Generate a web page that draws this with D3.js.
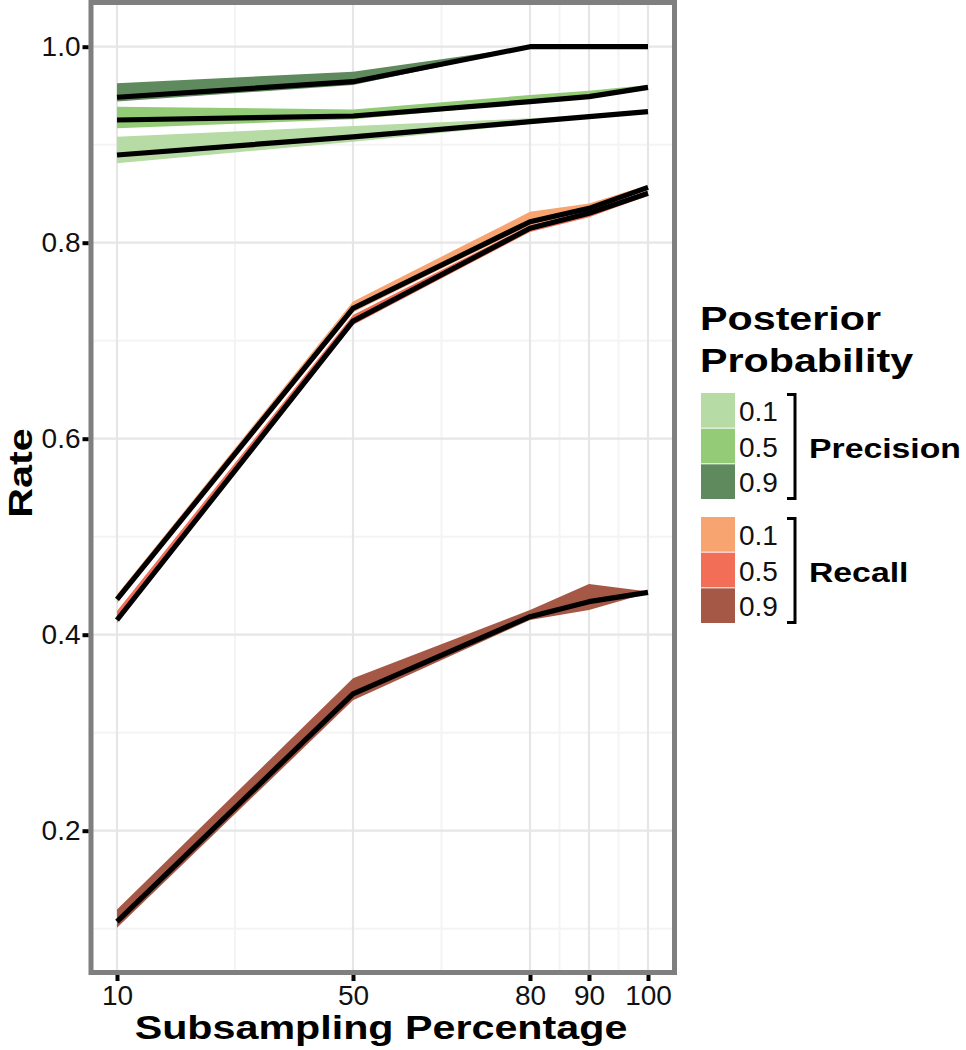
<!DOCTYPE html>
<html>
<head>
<meta charset="utf-8">
<script src="https://cdn.jsdelivr.net/npm/d3@7"></script>
<style>
  body{margin:0;background:#fff;}
  svg{display:block;font-family:"Liberation Sans",Arial,Helvetica,sans-serif;}
</style>
</head>
<body>
<svg id="chart" width="966" height="1050"></svg>
<script>
// subsampling percentages on the x axis
const pct = [10, 50, 80, 90, 100];

// precision, per posterior cut-off: mean line, ribbon low / high
const prec01 = [0.8895, 0.908, 0.9235, 0.9286, 0.9337];
const prec01Lo = [0.881, 0.903, 0.921, 0.927, 0.932];
const prec01Hi = [0.908, 0.919, 0.927, 0.930, 0.935];
const prec05 = [0.9252, 0.9293, 0.9439, 0.949, 0.9585];
const prec05Lo = [0.9167, 0.926, 0.942, 0.947, 0.957];
const prec05Hi = [0.9388, 0.936, 0.9507, 0.955, 0.961];
const prec09 = [0.9484, 0.9643, 1.0, 1.0, 1.0];
const prec09Lo = [0.944, 0.961, 0.999, 1.0, 1.0];
const prec09Hi = [0.9627, 0.9745, 1.0, 1.0, 1.0];

// recall
const rec01 = [0.4361, 0.733, 0.8214, 0.835, 0.8565];
const rec01Lo = [0.432, 0.729, 0.818, 0.832, 0.854];
const rec01Hi = [0.441, 0.740, 0.8316, 0.840, 0.859];
const rec05 = [0.415, 0.720, 0.8147, 0.830, 0.8504];
const rec05Lo = [0.412, 0.716, 0.811, 0.826, 0.848];
const rec05Hi = [0.4242, 0.7262, 0.818, 0.832, 0.853];
const rec09 = [0.1071, 0.3395, 0.4184, 0.4337, 0.4432];
const rec09Lo = [0.101, 0.333, 0.415, 0.4252, 0.4425];
const rec09Hi = [0.1197, 0.3555, 0.4252, 0.4517, 0.4440];

const xTicks = [10, 50, 80, 90, 100];
const xMinor = [30, 65, 85, 95];
const yTicks = [0.2, 0.4, 0.6, 0.8, 1.0];
const yMinor = [0.1, 0.3, 0.5, 0.7, 0.9];
const cutoffs = ['0.1', '0.5', '0.9'];
const precColors = ['#b6dba4', '#93cb76', '#5e8a5e'];
const recColors = ['#f8a470', '#f26e57', '#a65847'];

const series = [
  {line: prec01, lo: prec01Lo, hi: prec01Hi, fill: precColors[0]},
  {line: prec05, lo: prec05Lo, hi: prec05Hi, fill: precColors[1]},
  {line: prec09, lo: prec09Lo, hi: prec09Hi, fill: precColors[2]},
  {line: rec01, lo: rec01Lo, hi: rec01Hi, fill: recColors[0]},
  {line: rec05, lo: rec05Lo, hi: rec05Hi, fill: recColors[1]},
  {line: rec09, lo: rec09Lo, hi: rec09Hi, fill: recColors[2]}
];

const svg = d3.select('#chart');
const x = d3.scaleLinear().domain([10, 100]).range([117, 648]);
const y = d3.scaleLinear().domain([0.2, 1.0]).range([830.7, 46.7]);
const panel = {x0: 91, x1: 674.5, y0: 2.5, y1: 972.5};

// gridlines
const grid = svg.append('g');
grid.selectAll('.ymin').data(yMinor).enter().append('line')
  .attr('x1', panel.x0).attr('x2', panel.x1)
  .attr('y1', d=>y(d)).attr('y2', d=>y(d))
  .attr('stroke', '#f4f4f6').attr('stroke-width', 2);
grid.selectAll('.xmin').data(xMinor).enter().append('line')
  .attr('y1', panel.y0).attr('y2', panel.y1)
  .attr('x1', d=>x(d)).attr('x2', d=>x(d))
  .attr('stroke', '#f4f4f6').attr('stroke-width', 2);
grid.selectAll('.ymaj').data(yTicks).enter().append('line')
  .attr('x1', panel.x0).attr('x2', panel.x1)
  .attr('y1', d=>y(d)).attr('y2', d=>y(d))
  .attr('stroke', '#e6e6e6').attr('stroke-width', 2.2);
grid.selectAll('.xmaj').data(xTicks).enter().append('line')
  .attr('y1', panel.y0).attr('y2', panel.y1)
  .attr('x1', d=>x(d)).attr('x2', d=>x(d))
  .attr('stroke', '#e6e6e6').attr('stroke-width', 2.2);

// ribbons then mean lines
const area = d3.area().x((d,i)=>x(pct[i])).y0(d=>y(d[0])).y1(d=>y(d[1]));
const line = d3.line().x((d,i)=>x(pct[i])).y(d=>y(d));

svg.append('g').selectAll('path').data(series).enter().append('path')
  .attr('d', s=>area(s.lo.map((v,i)=>[v, s.hi[i]])))
  .attr('fill', s=>s.fill);

svg.append('g').selectAll('path').data(series).enter().append('path')
  .attr('d', s=>line(s.line))
  .attr('fill', 'none').attr('stroke', '#000').attr('stroke-width', 5.2)
  .attr('stroke-linejoin', 'round');

// panel border
svg.append('rect')
  .attr('x', panel.x0).attr('y', panel.y0)
  .attr('width', panel.x1 - panel.x0).attr('height', panel.y1 - panel.y0)
  .attr('fill', 'none').attr('stroke', '#7f7f7f').attr('stroke-width', 5);

// axes
const xAxis = d3.axisBottom(x).tickValues(xTicks).tickSize(6).tickPadding(4).tickFormat(d3.format('d'));
const gx = svg.append('g').attr('transform', 'translate(0,' + (panel.y1 + 2.5) + ')').call(xAxis);
gx.select('.domain').remove();
gx.selectAll('.tick line').attr('stroke', '#000').attr('stroke-width', 4);
gx.selectAll('.tick text').attr('font-size', 28).attr('fill', '#111')
  .attr('font-family', '"Liberation Sans",Arial,sans-serif').attr('dy', '0.71em');

const yAxis = d3.axisLeft(y).tickValues(yTicks).tickSize(6).tickPadding(2).tickFormat(d3.format('.1f'));
const gy = svg.append('g').attr('transform', 'translate(' + (panel.x0 - 2.5) + ',0)').call(yAxis);
gy.select('.domain').remove();
gy.selectAll('.tick line').attr('stroke', '#000').attr('stroke-width', 4);
gy.selectAll('.tick text').attr('font-size', 28).attr('fill', '#111')
  .attr('font-family', '"Liberation Sans",Arial,sans-serif');

// bold labels, stretched wide like the original face
function boldText(g, txt, tx, ty, size, anchor, rot){
  return g.append('text')
    .attr('transform', 'translate(' + tx + ',' + ty + ')' + (rot ? ' rotate(' + rot + ')' : '') + ' scale(1.25,1)')
    .attr('font-size', size).attr('font-weight', 'bold').attr('fill', '#000')
    .attr('text-anchor', anchor || 'start')
    .text(txt);
}

boldText(svg, 'Subsampling Percentage', 381, 1039, 33, 'middle');
boldText(svg, 'Rate', 32, 473, 33, 'middle', -90);

// legend
const leg = svg.append('g');
boldText(leg, 'Posterior', 700, 330, 33);
boldText(leg, 'Probability', 700, 372, 33);

const groups = [
  {name: 'Precision', colors: precColors, top: 393},
  {name: 'Recall', colors: recColors, top: 517}
];
groups.forEach(gr=>{
  const band = d3.scaleBand().domain(cutoffs).range([gr.top, gr.top + 107]);
  leg.selectAll(null).data(cutoffs).enter().append('rect')
    .attr('x', 701).attr('width', 34)
    .attr('y', d=>band(d)).attr('height', band.bandwidth() - 1)
    .attr('fill', (d,i)=>gr.colors[i]);
  leg.selectAll(null).data(cutoffs).enter().append('text')
    .attr('x', 739).attr('y', d=>band(d) + band.bandwidth()/2)
    .attr('dy', '0.36em').attr('font-size', 28).attr('fill', '#111')
    .text(d=>d);
  const y0 = gr.top, y1 = gr.top + 107;
  leg.append('path')
    .attr('d', 'M787,' + (y0+1.5) + 'H795V' + (y1-1.5) + 'H787')
    .attr('fill', 'none').attr('stroke', '#000').attr('stroke-width', 3);
  boldText(leg, gr.name, 809, (y0 + y1)/2 + 11, 27);
});
</script>
</body>
</html>
